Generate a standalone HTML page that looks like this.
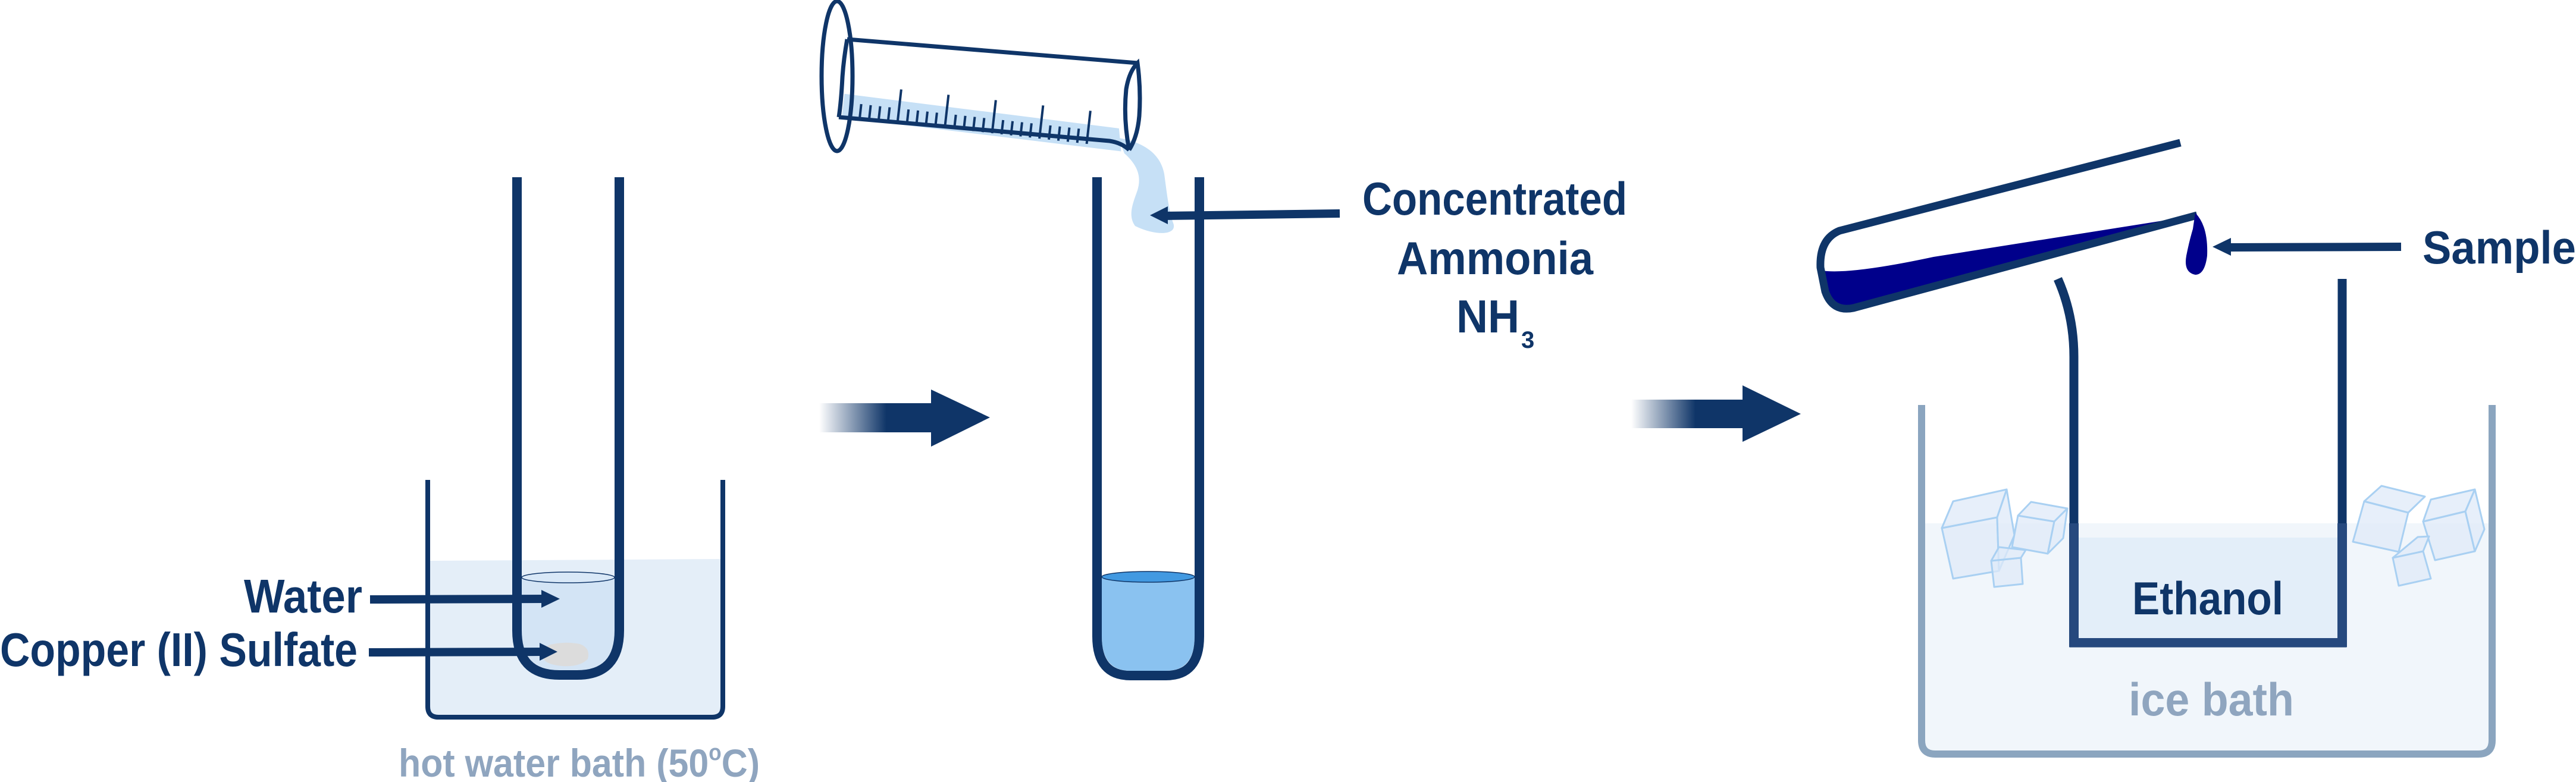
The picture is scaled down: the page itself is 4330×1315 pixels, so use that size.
<!DOCTYPE html>
<html><head><meta charset="utf-8"><style>
html,body{margin:0;padding:0;background:#fff;}
svg{display:block;}
text{font-family:"Liberation Sans Narrow","Liberation Sans",sans-serif;font-weight:bold;}
</style></head><body>
<svg width="4330" height="1315" viewBox="0 0 4330 1315" xmlns="http://www.w3.org/2000/svg">
<defs>
<linearGradient id="g1" gradientUnits="userSpaceOnUse" x1="1377" y1="0" x2="1490" y2="0">
<stop offset="0" stop-color="#0f3568" stop-opacity="0"/><stop offset="1" stop-color="#0f3568"/></linearGradient>
<linearGradient id="g2" gradientUnits="userSpaceOnUse" x1="2742" y1="0" x2="2850" y2="0">
<stop offset="0" stop-color="#0f3568" stop-opacity="0"/><stop offset="1" stop-color="#0f3568"/></linearGradient>
</defs>

<!-- Panel 1: hot water bath -->
<path d="M719,943 L1214,940 L1214,1190 Q1214,1206 1198,1206 L735,1206 Q719,1206 719,1190 Z" fill="#e4eef8"/>
<path d="M719,807 V1188 Q719,1206 737,1206 H1197 Q1215,1206 1215,1188 V807" fill="none" stroke="#0f3568" stroke-width="8"/>
<path d="M877,970 H1033 V1060 Q1033,1127 970,1127 H940 Q877,1127 877,1060 Z" fill="#d3e4f5"/>
<ellipse cx="955" cy="971" rx="78" ry="9" fill="#d9e8f7" stroke="#0f3568" stroke-width="1.5"/>
<path d="M915,1110 Q905,1092 925,1084 Q950,1078 975,1083 Q993,1090 988,1108 Q975,1122 945,1120 Q922,1118 915,1110 Z" fill="#dcdcdc"/>
<path d="M869,298 V1060 Q869,1135 940,1135 H970 Q1041,1135 1041,1060 V298" fill="none" stroke="#0f3568" stroke-width="16"/>
<line x1="622" y1="1008" x2="915" y2="1007" stroke="#0f3568" stroke-width="14"/>
<polygon points="910,992 941,1007 910,1022" fill="#0f3568"/>
<line x1="620" y1="1097" x2="910" y2="1096" stroke="#0f3568" stroke-width="14"/>
<polygon points="907,1081 937,1096 907,1111" fill="#0f3568"/>
<text x="410" y="1030" font-size="80" fill="#0f3568" textLength="199" lengthAdjust="spacingAndGlyphs">Water</text>
<text x="0" y="1120" font-size="80" fill="#0f3568" textLength="601" lengthAdjust="spacingAndGlyphs">Copper (II) Sulfate</text>
<text x="670" y="1306" font-size="66" fill="#8fa5bf" font-weight="normal" textLength="607" lengthAdjust="spacingAndGlyphs">hot water bath (50<tspan dy="-28" font-size="38">o</tspan><tspan dy="28">C)</tspan></text>

<!-- Arrow 1 -->
<polygon points="1377,678 1565,678 1565,655 1664,702 1565,751 1565,727 1377,727" fill="url(#g1)"/>

<!-- Panel 2 -->
<path d="M1852,972 H2008 V1070 Q2008,1128 1960,1128 H1900 Q1852,1128 1852,1070 Z" fill="#8ac2f0"/>
<ellipse cx="1930" cy="970" rx="78" ry="9" fill="#4299e1" stroke="#0f3568" stroke-width="1.5"/>
<path d="M1844,298 V1070 Q1844,1136 1900,1136 H1960 Q2016,1136 2016,1070 V298" fill="none" stroke="#0f3568" stroke-width="16"/>
<!-- graduated cylinder -->
<g transform="translate(1410 197) rotate(6.43)">
<polygon points="5,-40 470,-34 478,4 5,0" fill="#c6e0f6"/>
</g>
<path d="M1880,232 C1930,240 1955,265 1958,300 C1962,330 1965,355 1972,375 C1980,395 1945,398 1908,380 C1895,362 1905,340 1912,320 C1918,300 1915,280 1890,258 Z" fill="#c6e0f6"/>
<g transform="translate(1410 197) rotate(6.43)" stroke="#0f3568" stroke-width="4" fill="none">
<path d="M35,-2V-26M51,-2V-26M67,-2V-26M83,-2V-26M99,-2V-58M115,-2V-26M131,-2V-26M147,-2V-26M163,-2V-26M179,-2V-58M195,-2V-26M211,-2V-26M227,-2V-26M243,-2V-26M259,-2V-58M275,-2V-26M291,-2V-26M307,-2V-26M323,-2V-26M339,-2V-58M355,-2V-26M371,-2V-26M387,-2V-26M403,-2V-26M419,-2V-58"/>
</g>
<g stroke="#0f3568" stroke-width="7" fill="none">
<line x1="1424" y1="66" x2="1912" y2="106"/>
<path d="M1410,197 L1865,237 Q1885,240 1898,252"/>
<ellipse cx="1407" cy="128" rx="26" ry="126"/>
<path d="M1898,252 Q1888,200 1893,150 Q1898,120 1912,106 Q1918,150 1915,195 Q1912,230 1898,252"/>
<path d="M1424,66 Q1418,100 1416,130 Q1414,170 1410,197"/>
</g>
<line x1="2252" y1="359" x2="1955" y2="363" stroke="#0f3568" stroke-width="14"/>
<polygon points="1963,347 1933,362 1963,377" fill="#0f3568"/>
<text x="2290" y="361" font-size="78" fill="#0f3568" textLength="445" lengthAdjust="spacingAndGlyphs">Concentrated</text>
<text x="2348" y="461" font-size="78" fill="#0f3568" textLength="330" lengthAdjust="spacingAndGlyphs">Ammonia</text>
<text x="2448" y="559" font-size="78" fill="#0f3568" textLength="106" lengthAdjust="spacingAndGlyphs">NH</text>
<text x="2557" y="585" font-size="40" fill="#0f3568">3</text>

<!-- Arrow 2 -->
<polygon points="2742,672 2929,672 2929,648 3027,696 2929,743 2929,720 2742,720" fill="url(#g2)"/>

<!-- Panel 3: ice bath -->
<path d="M3236,880 H4183 V1245 Q4183,1262 4166,1262 H3253 Q3236,1262 3236,1245 Z" fill="#f1f6fb"/>
<path d="M3230,681 V1245 Q3230,1268 3253,1268 H4166 Q4189,1268 4189,1245 V681" fill="none" stroke="#8ba5bf" stroke-width="12"/>
<rect x="3493" y="904" width="437" height="172" fill="#e3eef9"/>
<path d="M3459,469 Q3486,530 3486,600 V1081 H3937 V469" fill="none" stroke="#0f3568" stroke-width="15"/>
<rect x="3478" y="880" width="16" height="208" fill="#26497e"/>
<rect x="3929" y="880" width="16" height="208" fill="#26497e"/>
<rect x="3478" y="1073" width="467" height="15" fill="#26497e"/>
<text x="3584" y="1033" font-size="78" fill="#0f3568" textLength="254" lengthAdjust="spacingAndGlyphs">Ethanol</text>
<text x="3578" y="1203" font-size="78" fill="#8fa5bf" font-weight="normal" textLength="278" lengthAdjust="spacingAndGlyphs">ice bath</text>
<!-- ice cubes -->
<g fill="#dfe9f8" fill-opacity="0.75" stroke="#a9d0f2" stroke-width="3" stroke-linejoin="round">
<polygon points="3264,888 3283,973 3360,960 3357,870"/>
<polygon points="3264,888 3283,843 3373,823 3357,870"/>
<polygon points="3357,870 3373,823 3386,900 3360,960"/>
<polygon points="3382,920 3392,867 3453,877 3442,931"/>
<polygon points="3392,867 3414,844 3475,855 3453,877"/>
<polygon points="3453,877 3475,855 3468,905 3442,931"/>
<polygon points="3347,943 3397,938 3400,982 3352,987"/>
<polygon points="3347,943 3360,920 3405,925 3397,938"/>
<polygon points="3955,911 3974,843 4048,862 4032,928"/>
<polygon points="3974,843 4003,817 4076,835 4048,862"/>
<polygon points="4073,877 4144,860 4160,927 4093,942"/>
<polygon points="4073,877 4086,840 4160,823 4144,860"/>
<polygon points="4144,860 4160,823 4176,890 4160,927"/>
<polygon points="4022,938 4073,927 4086,973 4032,985"/>
<polygon points="4022,938 4064,903 4083,902 4073,927"/>
</g>
<!-- tilted tube with sample -->
<path d="M3062,455 Q3110,462 3250,432 L3693,362 L3115,515 Q3085,520 3072,490 Z" fill="#00008b"/>
<path d="M3665,240 L3092,388 Q3058,402 3060,450 L3068,490 Q3080,525 3115,518 L3693,362" fill="none" stroke="#0f3568" stroke-width="13"/>
<path d="M3690,358 Q3712,380 3710,430 Q3706,462 3690,462 Q3670,458 3675,430 Q3680,405 3686,385 Z" fill="#00008b"/>
<line x1="4036" y1="415" x2="3742" y2="416" stroke="#0f3568" stroke-width="14"/>
<polygon points="3750,400 3719,415 3750,430" fill="#0f3568"/>
<text x="4072" y="443" font-size="78" fill="#0f3568" textLength="258" lengthAdjust="spacingAndGlyphs">Sample</text>
</svg>
</body></html>
